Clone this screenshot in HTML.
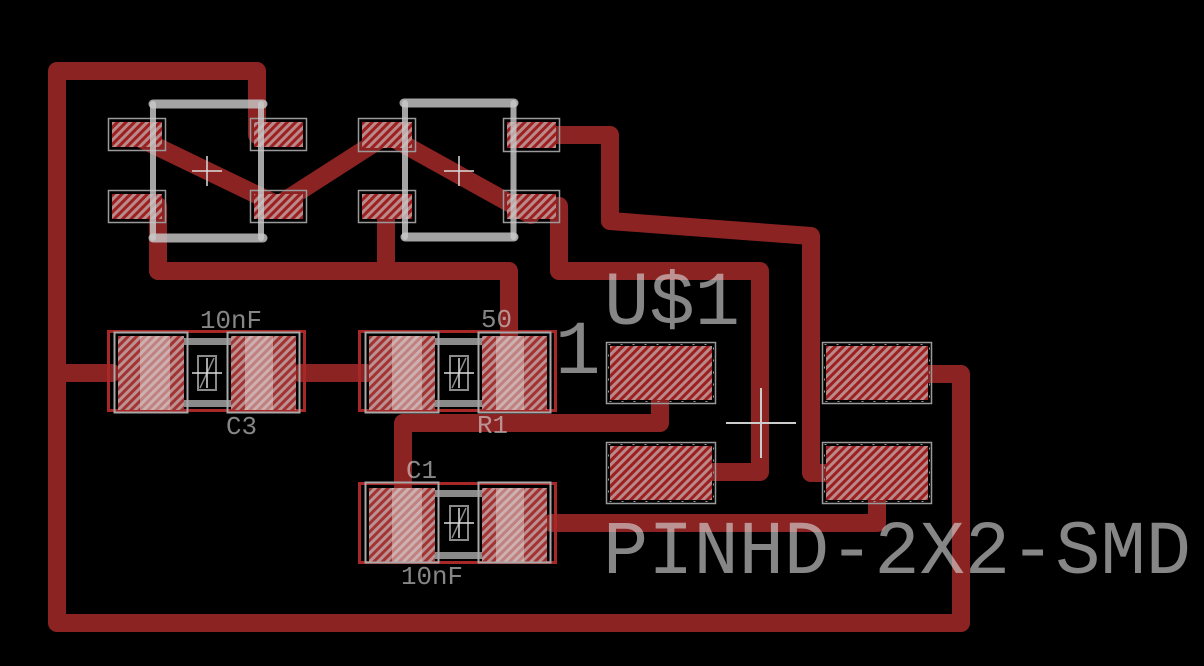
<!DOCTYPE html>
<html><head><meta charset="utf-8"><style>
html,body{margin:0;padding:0;background:#000;}
svg{display:block;}
text{font-family:"Liberation Mono","DejaVu Sans Mono",monospace;fill:#d8d8d8;fill-opacity:0.62;}
</style></head><body>
<svg width="1204" height="666" viewBox="0 0 1204 666" xmlns="http://www.w3.org/2000/svg">
<defs>
<pattern id="h" width="6" height="6" patternUnits="userSpaceOnUse" patternTransform="rotate(45)">
<rect width="6" height="6" fill="#b98a8a"/><rect width="3" height="6" fill="#9e1f1f"/>
</pattern>
</defs>
<rect width="1204" height="666" fill="#000"/>

<!-- traces -->
<g fill="none" stroke="#8c2323" stroke-width="18" stroke-linejoin="round" stroke-linecap="round">
<polyline points="257,135 257,71 57,71 57,623 961,623 961,374 925,374"/>
<polyline points="57,373 112,373"/>
<polyline points="300,373 366,373"/>
<polyline points="509,335 509,271 158,271 158,206"/>
<polyline points="386,271 386,206"/>
<polyline points="137,137 278,205 387,135 531,215"/>
<polyline points="531,135 610,135 610,221 811,236 811,473 830,473"/>
<polyline points="531,206 559,206 559,271 760,271 760,472 700,472"/>
<polyline points="403,490 403,423 660,423 660,395"/>
<polyline points="552,523 877,523 877,495"/>
</g>

<!-- IC pads -->
<g>
<rect x="112" y="122" width="50" height="25" fill="url(#h)"/>
<rect x="254" y="122" width="49" height="25" fill="url(#h)"/>
<rect x="112" y="194" width="50" height="25" fill="url(#h)"/>
<rect x="254" y="194" width="49" height="25" fill="url(#h)"/>
<rect x="362" y="122" width="50" height="26" fill="url(#h)"/>
<rect x="507" y="122" width="49" height="26" fill="url(#h)"/>
<rect x="362" y="194" width="50" height="25" fill="url(#h)"/>
<rect x="507" y="194" width="49" height="25" fill="url(#h)"/>
</g>
<g fill="none" stroke="#9a9a9a" stroke-width="1.5">
<rect x="108.5" y="118.5" width="57" height="32"/>
<rect x="250.5" y="118.5" width="56" height="32"/>
<rect x="108.5" y="190.5" width="57" height="32"/>
<rect x="250.5" y="190.5" width="56" height="32"/>
<rect x="358.5" y="118.5" width="57" height="33"/>
<rect x="503.5" y="118.5" width="56" height="33"/>
<rect x="358.5" y="190.5" width="57" height="32"/>
<rect x="503.5" y="190.5" width="56" height="32"/>
</g>

<!-- connector pads -->
<g>
<rect x="610" y="346" width="102" height="54" fill="url(#h)"/>
<rect x="610" y="446" width="102" height="54" fill="url(#h)"/>
<rect x="826" y="346" width="102" height="54" fill="url(#h)"/>
<rect x="826" y="446" width="102" height="54" fill="url(#h)"/>
</g>
<g fill="none" stroke="#9a9a9a" stroke-width="1.5">
<rect x="606.5" y="342.5" width="109" height="61"/>
<rect x="606.5" y="442.5" width="109" height="61"/>
<rect x="822.5" y="342.5" width="109" height="61"/>
<rect x="822.5" y="442.5" width="109" height="61"/>
</g>
<g fill="none" stroke="#9a9a9a" stroke-width="1" stroke-dasharray="2 10">
<rect x="608.5" y="344.5" width="105" height="57"/>
<rect x="608.5" y="444.5" width="105" height="57"/>
<rect x="824.5" y="344.5" width="105" height="57"/>
<rect x="824.5" y="444.5" width="105" height="57"/>
</g>

<!-- C3 -->
<g transform="translate(107,330)">
<rect x="1.5" y="1.5" width="196" height="79" fill="none" stroke="#a82828" stroke-width="3"/>
<rect x="70" y="8" width="60" height="7" fill="#8a8a8a"/>
<rect x="70" y="70" width="60" height="7" fill="#8a8a8a"/>
<rect x="11" y="6" width="66" height="74" fill="url(#h)"/>
<rect x="11" y="6" width="66" height="74" fill="#d0c8c8" fill-opacity="0.12"/>
<rect x="33" y="6" width="30" height="74" fill="#e0d0d0" fill-opacity="0.5"/>
<rect x="7.5" y="2.5" width="73" height="80" fill="none" stroke="#a8a8a8" stroke-width="2"/>
<rect x="124" y="6" width="65" height="74" fill="url(#h)"/>
<rect x="124" y="6" width="65" height="74" fill="#d0c8c8" fill-opacity="0.12"/>
<rect x="138" y="6" width="28" height="74" fill="#e0d0d0" fill-opacity="0.5"/>
<rect x="120.5" y="2.5" width="72" height="80" fill="none" stroke="#a8a8a8" stroke-width="2"/>
<rect x="91" y="26" width="18" height="34" fill="none" stroke="#8a8a8a" stroke-width="2"/>
<line x1="93" y1="58" x2="107" y2="28" stroke="#8a8a8a" stroke-width="1.5"/>
<line x1="85" y1="43" x2="115" y2="43" stroke="#dddddd" stroke-width="1.5"/>
<line x1="100" y1="28" x2="100" y2="58" stroke="#dddddd" stroke-width="1.5"/>
</g>

<!-- R1 -->
<g transform="translate(358,330)">
<rect x="1.5" y="1.5" width="196" height="79" fill="none" stroke="#a82828" stroke-width="3"/>
<rect x="70" y="8" width="60" height="7" fill="#8a8a8a"/>
<rect x="70" y="70" width="60" height="7" fill="#8a8a8a"/>
<rect x="11" y="6" width="66" height="74" fill="url(#h)"/>
<rect x="11" y="6" width="66" height="74" fill="#d0c8c8" fill-opacity="0.12"/>
<rect x="34" y="6" width="30" height="74" fill="#e0d0d0" fill-opacity="0.5"/>
<rect x="7.5" y="2.5" width="73" height="80" fill="none" stroke="#a8a8a8" stroke-width="2"/>
<rect x="124" y="6" width="65" height="74" fill="url(#h)"/>
<rect x="124" y="6" width="65" height="74" fill="#d0c8c8" fill-opacity="0.12"/>
<rect x="138" y="6" width="28" height="74" fill="#e0d0d0" fill-opacity="0.5"/>
<rect x="120.5" y="2.5" width="72" height="80" fill="none" stroke="#a8a8a8" stroke-width="2"/>
<rect x="92" y="26" width="18" height="34" fill="none" stroke="#8a8a8a" stroke-width="2"/>
<line x1="94" y1="58" x2="108" y2="28" stroke="#8a8a8a" stroke-width="1.5"/>
<line x1="86" y1="43" x2="116" y2="43" stroke="#dddddd" stroke-width="1.5"/>
<line x1="101" y1="28" x2="101" y2="58" stroke="#dddddd" stroke-width="1.5"/>
</g>

<!-- C1 -->
<g transform="translate(358,482)">
<rect x="1.5" y="1.5" width="196" height="79" fill="none" stroke="#a82828" stroke-width="3"/>
<rect x="70" y="8" width="60" height="7" fill="#8a8a8a"/>
<rect x="70" y="70" width="60" height="7" fill="#8a8a8a"/>
<rect x="11" y="6" width="66" height="74" fill="url(#h)"/>
<rect x="11" y="6" width="66" height="74" fill="#d0c8c8" fill-opacity="0.12"/>
<rect x="34" y="6" width="30" height="74" fill="#e0d0d0" fill-opacity="0.5"/>
<rect x="7.5" y="0.5" width="73" height="80" fill="none" stroke="#a8a8a8" stroke-width="2"/>
<rect x="124" y="6" width="65" height="74" fill="url(#h)"/>
<rect x="124" y="6" width="65" height="74" fill="#d0c8c8" fill-opacity="0.12"/>
<rect x="138" y="6" width="28" height="74" fill="#e0d0d0" fill-opacity="0.5"/>
<rect x="120.5" y="0.5" width="72" height="80" fill="none" stroke="#a8a8a8" stroke-width="2"/>
<rect x="92" y="24" width="18" height="34" fill="none" stroke="#8a8a8a" stroke-width="2"/>
<line x1="94" y1="56" x2="108" y2="26" stroke="#8a8a8a" stroke-width="1.5"/>
<line x1="86" y1="41" x2="116" y2="41" stroke="#dddddd" stroke-width="1.5"/>
<line x1="101" y1="26" x2="101" y2="56" stroke="#dddddd" stroke-width="1.5"/>
</g>

<!-- IC outlines -->
<g fill="none" stroke="#c8c8c8" stroke-opacity="0.82" stroke-linecap="round">
<line x1="153" y1="104" x2="263" y2="104" stroke-width="9"/>
<line x1="153" y1="238" x2="263" y2="238" stroke-width="9"/>
<line x1="153" y1="104" x2="153" y2="238" stroke-width="6"/>
<line x1="261" y1="104" x2="261" y2="238" stroke-width="6"/>
<line x1="404" y1="103" x2="514" y2="103" stroke-width="9"/>
<line x1="405" y1="237" x2="514" y2="237" stroke-width="9"/>
<line x1="405" y1="103" x2="405" y2="237" stroke-width="6"/>
<line x1="513.5" y1="103" x2="513.5" y2="237" stroke-width="6"/>
</g>
<g stroke="#dddddd" stroke-width="1.5">
<line x1="192" y1="171" x2="222" y2="171"/><line x1="207" y1="156" x2="207" y2="186"/>
<line x1="444" y1="171" x2="474" y2="171"/><line x1="459" y1="156" x2="459" y2="186"/>
<line x1="726" y1="423" x2="796" y2="423" stroke="#cccccc" stroke-width="2"/>
<line x1="761" y1="388" x2="761" y2="458" stroke="#cccccc" stroke-width="2"/>
</g>

<!-- labels -->
<text x="200" y="328" font-size="26" textLength="62" lengthAdjust="spacingAndGlyphs">10nF</text>
<text x="226" y="434" font-size="26" textLength="31" lengthAdjust="spacingAndGlyphs">C3</text>
<text x="481" y="327" font-size="26" textLength="31" lengthAdjust="spacingAndGlyphs">50</text>
<text x="477" y="433" font-size="26" textLength="31" lengthAdjust="spacingAndGlyphs">R1</text>
<text x="406" y="478" font-size="26" textLength="31" lengthAdjust="spacingAndGlyphs">C1</text>
<text x="401" y="584" font-size="26" textLength="62" lengthAdjust="spacingAndGlyphs">10nF</text>
<text x="555" y="373" font-size="76">1</text>
<text x="604" y="324" font-size="76" textLength="136" lengthAdjust="spacingAndGlyphs">U$1</text>
<text x="603" y="573" font-size="76" textLength="588" lengthAdjust="spacingAndGlyphs">PINHD-2X2-SMD</text>
</svg>
</body></html>
